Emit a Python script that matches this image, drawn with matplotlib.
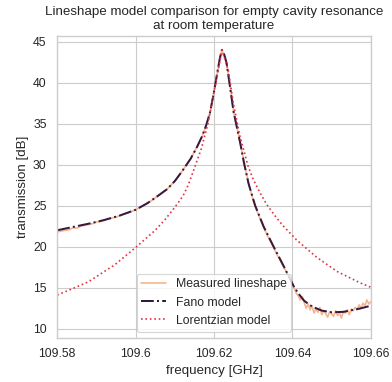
import numpy as np
import matplotlib
matplotlib.use('Agg')
import matplotlib.pyplot as plt
import seaborn as sns

sns.set_theme(style='whitegrid', palette='rocket')
plt.rcParams['font.family'] = ['Liberation Sans', 'DejaVu Sans']

# measured lineshape (1 MHz steps, 0.5 MHz in the noisy tail)
f_meas = [109.580, 109.581, 109.582, 109.583, 109.584, 109.585, 109.586, 109.587, 109.588, 109.589,
          109.590, 109.591, 109.592, 109.593, 109.594, 109.595, 109.596, 109.597, 109.598, 109.599,
          109.600, 109.601, 109.602, 109.603, 109.604, 109.605, 109.606, 109.607, 109.608, 109.609,
          109.610, 109.611, 109.612, 109.613, 109.614, 109.615, 109.616, 109.617, 109.618, 109.619,
          109.620, 109.621, 109.622, 109.623, 109.624, 109.625, 109.626, 109.627, 109.628, 109.629,
          109.630, 109.631, 109.632, 109.633, 109.634, 109.635, 109.636, 109.637, 109.638, 109.639,
          109.6400, 109.6405, 109.6410, 109.6415, 109.6420, 109.6425, 109.6430, 109.6435, 109.6440, 109.6445,
          109.6450, 109.6455, 109.6460, 109.6465, 109.6470, 109.6475, 109.6480, 109.6485, 109.6490, 109.6495,
          109.6500, 109.6505, 109.6510, 109.6515, 109.6520, 109.6525, 109.6530, 109.6535, 109.6540, 109.6545,
          109.6550, 109.6555, 109.6560, 109.6565, 109.6570, 109.6575, 109.6580, 109.6585, 109.6590, 109.6595,
          109.6600]
t_meas = [21.8, 21.9, 22.0, 22.05, 22.3, 22.25, 22.5, 22.6, 22.7, 22.8,
          23.0, 23.05, 23.2, 23.4, 23.5, 23.6, 23.8, 24.0, 24.1, 24.3,
          24.5, 24.75, 25.0, 25.3, 25.6, 25.95, 26.3, 26.7, 27.0, 27.5,
          28.0, 28.6, 29.3, 30.0, 30.7, 31.6, 32.5, 33.5, 34.8, 36.4,
          39.0, 41.6, 44.0, 42.8, 40.0, 36.4, 34.2, 31.9, 29.5, 27.4,
          25.6, 24.3, 23.1, 22.0, 21.0, 20.1, 19.1, 18.2, 17.3, 16.4,
          15.4, 14.9, 14.3, 14.0, 13.5, 13.9, 13.2, 12.5, 13.0, 12.3,
          12.8, 11.9, 12.4, 12.0, 12.6, 11.7, 12.2, 11.8, 11.4, 12.1,
          11.8, 11.5, 12.2, 11.6, 11.9, 11.3, 12.1, 11.9, 12.3, 11.7,
          12.4, 12.2, 12.6, 12.3, 12.9, 12.5, 13.1, 12.8, 13.5, 13.0,
          13.3]

# Fano fit
f_fano = [109.580, 109.584, 109.588, 109.592, 109.596, 109.600, 109.603, 109.606, 109.608, 109.610,
          109.612, 109.614, 109.6155, 109.617, 109.618, 109.619, 109.620, 109.621, 109.6215, 109.622,
          109.6225, 109.6232, 109.6241, 109.6250, 109.6259, 109.6267, 109.6276, 109.6288, 109.6305, 109.6327,
          109.6352, 109.6378, 109.6403, 109.6415, 109.6430, 109.6450, 109.6475, 109.650, 109.653, 109.6572,
          109.660]
t_fano = [22.0, 22.4, 22.8, 23.25, 23.8, 24.5, 25.3, 26.3, 27.0, 28.0,
          29.3, 30.7, 32.0, 33.5, 34.8, 36.4, 38.9, 41.7, 43.0, 44.0,
          43.6, 42.4, 39.4, 36.4, 34.4, 32.6, 30.3, 27.7, 25.0, 22.4,
          20.0, 17.6, 15.2, 14.3, 13.4, 12.7, 12.2, 12.0, 12.05, 12.45,
          12.8]

# Lorentzian fit
f_lor = [109.580, 109.584, 109.5879, 109.5947, 109.600, 109.605, 109.6075, 109.610, 109.6121, 109.6135,
         109.6147, 109.6168, 109.6185, 109.6198, 109.6211, 109.622, 109.6236, 109.6250, 109.6266, 109.6287,
         109.6300, 109.6317, 109.6335, 109.6355, 109.6375, 109.6411, 109.6462, 109.6513, 109.6572, 109.660]
t_lor = [14.1, 14.9, 15.7, 17.8, 19.9, 22.0, 23.3, 24.8, 26.2, 27.6,
         29.2, 32.0, 35.1, 38.4, 41.6, 44.0, 41.6, 37.3, 33.5, 29.8,
         28.2, 26.6, 25.1, 23.8, 22.6, 20.8, 18.7, 17.0, 15.6, 15.05]

pal = sns.color_palette('rocket', 6)

fig = plt.figure(figsize=(392 / 80, 382 / 80), dpi=80)
ax = fig.add_axes([0.146, 0.116, 0.80, 0.79])
ax.plot(f_meas, t_meas, color=pal[5], lw=1.5, label='Measured lineshape')
ax.plot(f_fano, t_fano, color=pal[0], lw=1.8, ls='-.', label='Fano model')
ax.plot(f_lor, t_lor, color=pal[3], lw=1.5, ls=':', label='Lorentzian model')

ax.set_xlim(109.58, 109.66)
ax.set_ylim(8.9, 45.7)
ax.set_xticks([109.58, 109.60, 109.62, 109.64, 109.66])
ax.set_xticklabels(['109.58', '109.6', '109.62', '109.64', '109.66'])
ax.set_yticks([10, 15, 20, 25, 30, 35, 40, 45])
ax.set_xlabel('frequency [GHz]')
ax.set_ylabel('transmission [dB]')
ax.set_title('Lineshape model comparison for empty cavity resonance\nat room temperature')
ax.legend(loc='lower center')

fig.savefig('out.png', dpi=80)
